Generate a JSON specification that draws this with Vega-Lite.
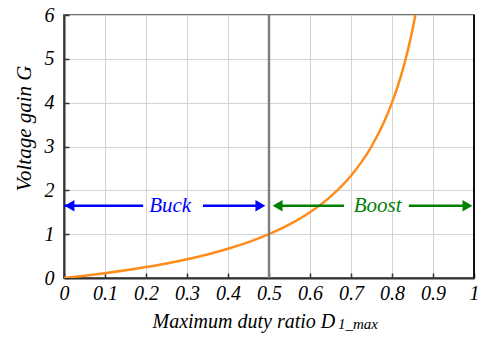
{
  "$schema": "https://vega.github.io/schema/vega-lite/v6.json",
  "width": 410,
  "height": 263,
  "autosize": {"type": "none"},
  "padding": {"left": 64, "top": 15, "right": 10, "bottom": 60},
  "background": "white",
  "config": {
    "font": "Liberation Serif",
    "view": {"stroke": "#6e6e6e", "strokeWidth": 2}
  },
  "layer": [
    {
      "data": {
        "values": [
          {"D": 0.0, "G": 0.0},
          {"D": 0.05, "G": 0.053},
          {"D": 0.1, "G": 0.111},
          {"D": 0.15, "G": 0.176},
          {"D": 0.2, "G": 0.25},
          {"D": 0.25, "G": 0.333},
          {"D": 0.3, "G": 0.429},
          {"D": 0.35, "G": 0.538},
          {"D": 0.4, "G": 0.667},
          {"D": 0.45, "G": 0.818},
          {"D": 0.5, "G": 1.0},
          {"D": 0.55, "G": 1.222},
          {"D": 0.6, "G": 1.5},
          {"D": 0.65, "G": 1.857},
          {"D": 0.7, "G": 2.333},
          {"D": 0.75, "G": 3.0},
          {"D": 0.78, "G": 3.545},
          {"D": 0.8, "G": 4.0},
          {"D": 0.82, "G": 4.556},
          {"D": 0.83, "G": 4.882},
          {"D": 0.84, "G": 5.25},
          {"D": 0.85, "G": 5.667},
          {"D": 0.857, "G": 6.0}
        ]
      },
      "mark": {"type": "line", "color": "#ff8c1a", "strokeWidth": 2.5, "interpolate": "monotone", "clip": true},
      "encoding": {
        "x": {
          "field": "D",
          "type": "quantitative",
          "scale": {"domain": [0, 1], "nice": false},
          "axis": {
            "title": "Maximum duty ratio D",
            "titleFont": "Liberation Serif",
            "titleFontStyle": "italic",
            "titleFontWeight": "normal",
            "titleFontSize": 20,
            "titleColor": "#000",
            "titleAlign": "left",
            "titleBaseline": "alphabetic",
            "titleX": 88,
            "titleY": 49,
            "values": [0, 0.1, 0.2, 0.3, 0.4, 0.5, 0.6, 0.7, 0.8, 0.9, 1],
            "labelExpr": "datum.value == 0 ? '0' : datum.value == 1 ? '1' : format(datum.value, '.1f')",
            "labelFont": "Liberation Serif",
            "labelFontStyle": "italic",
            "labelFontSize": 20,
            "labelColor": "#000",
            "labelFlush": false,
            "labelPadding": 10,
            "labelOverlap": false,
            "tickSize": -5,
            "tickColor": "#333",
            "tickWidth": 1.5,
            "domainColor": "#333",
            "domainWidth": 2,
            "grid": true,
            "gridColor": "#d4d4d4",
            "gridWidth": 1
          }
        },
        "y": {
          "field": "G",
          "type": "quantitative",
          "scale": {"domain": [0, 6], "nice": false},
          "axis": {
            "title": "Voltage gain G",
            "titleFont": "Liberation Serif",
            "titleFontStyle": "italic",
            "titleFontWeight": "normal",
            "titleFontSize": 21,
            "titleColor": "#000",
            "titleAlign": "center",
            "titleBaseline": "middle",
            "titleX": -40,
            "titleY": 113,
            "values": [0, 1, 2, 3, 4, 5, 6],
            "labelFont": "Liberation Serif",
            "labelFontStyle": "italic",
            "labelFontSize": 20,
            "labelColor": "#000",
            "labelFlush": false,
            "labelPadding": 15,
            "tickSize": -5,
            "tickColor": "#333",
            "tickWidth": 1.5,
            "domainColor": "#333",
            "domainWidth": 2,
            "grid": true,
            "gridColor": "#d4d4d4",
            "gridWidth": 1
          }
        }
      }
    },
    {
      "data": {"values": [{"D": 0.5}]},
      "mark": {"type": "rule", "color": "#808080", "strokeWidth": 2.5},
      "encoding": {"x": {"field": "D", "type": "quantitative"}}
    },
    {
      "data": {"values": [{"D": 1}]},
      "mark": {"type": "rule", "color": "#111", "strokeWidth": 2},
      "encoding": {"x": {"field": "D", "type": "quantitative"}}
    },
    {
      "data": {
        "values": [
          {"mode": "Buck", "from": 0.0, "to": 0.193, "G": 1.65},
          {"mode": "Buck", "from": 0.339, "to": 0.47, "G": 1.65},
          {"mode": "Boost", "from": 0.53, "to": 0.683, "G": 1.65},
          {"mode": "Boost", "from": 0.841, "to": 0.975, "G": 1.65}
        ]
      },
      "mark": {"type": "rule", "strokeWidth": 2.5},
      "encoding": {
        "x": {"field": "from", "type": "quantitative"},
        "x2": {"field": "to"},
        "y": {"field": "G", "type": "quantitative"},
        "color": {"field": "mode", "type": "nominal", "scale": {"domain": ["Buck", "Boost"], "range": ["#0000ff", "#008000"]}, "legend": null}
      }
    },
    {
      "data": {
        "values": [
          {"mode": "Buck", "tip": "left", "D": 0.0134, "G": 1.65},
          {"mode": "Buck", "tip": "right", "D": 0.479, "G": 1.65},
          {"mode": "Boost", "tip": "left", "D": 0.521, "G": 1.65},
          {"mode": "Boost", "tip": "right", "D": 0.984, "G": 1.65}
        ]
      },
      "mark": {"type": "point", "filled": true, "size": 130, "opacity": 1, "strokeWidth": 0},
      "encoding": {
        "x": {"field": "D", "type": "quantitative"},
        "y": {"field": "G", "type": "quantitative"},
        "shape": {"field": "tip", "type": "nominal", "scale": {"domain": ["left", "right"], "range": ["triangle-left", "triangle-right"]}, "legend": null},
        "color": {"field": "mode", "type": "nominal", "legend": null}
      }
    },
    {
      "data": {
        "values": [
          {"mode": "Buck", "D": 0.259, "G": 1.65},
          {"mode": "Boost", "D": 0.765, "G": 1.65}
        ]
      },
      "mark": {"type": "text", "font": "Liberation Serif", "fontStyle": "italic", "fontSize": 21, "align": "center", "baseline": "middle"},
      "encoding": {
        "x": {"field": "D", "type": "quantitative"},
        "y": {"field": "G", "type": "quantitative"},
        "text": {"field": "mode"},
        "color": {"field": "mode", "type": "nominal", "legend": null}
      }
    },
    {
      "data": {"values": [{"sub": "1_max", "D": 0.668, "G": -1.163}]},
      "mark": {"type": "text", "font": "Liberation Serif", "fontStyle": "italic", "fontSize": 15, "align": "left", "baseline": "alphabetic", "color": "#000", "clip": false},
      "encoding": {
        "x": {"field": "D", "type": "quantitative"},
        "y": {"field": "G", "type": "quantitative"},
        "text": {"field": "sub"}
      }
    }
  ]
}
